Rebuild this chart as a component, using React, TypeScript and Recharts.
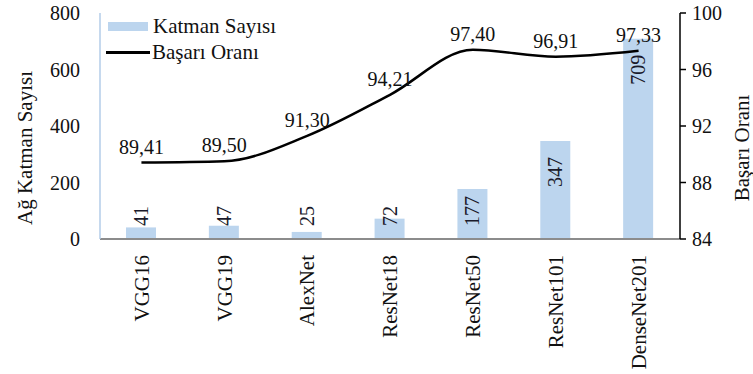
import React from 'react';
import {
  ComposedChart,
  Bar,
  Line,
  XAxis,
  YAxis,
  Legend,
  LabelList,
} from 'recharts';

const models = ['VGG16', 'VGG19', 'AlexNet', 'ResNet18', 'ResNet50', 'ResNet101', 'DenseNet201'];
const layerCounts = [41, 47, 25, 72, 177, 347, 709];
const accuracy = [89.41, 89.5, 91.3, 94.21, 97.4, 96.91, 97.33];
const leftTicks = [0, 200, 400, 600, 800];
const rightTicks = [84, 88, 92, 96, 100];

const FONT = '"Liberation Serif", "Times New Roman", serif';
const BAR_COLOR = '#bcd5ee';
const txt = { fontFamily: FONT };

const data = models.map((name, i) => ({
  name,
  layers: layerCounts[i],
  acc: accuracy[i],
}));

const fmtComma = (v: number) => v.toFixed(2).replace('.', ',');

// category names, rotated to read bottom-to-top, hanging under the axis
const CategoryTick = (props: any) => {
  const { x, y, payload } = props;
  const ty = y + 8;
  return (
    <text
      x={x}
      y={ty}
      transform={`rotate(-90 ${x} ${ty})`}
      textAnchor="end"
      dy="0.35em"
      style={txt}
      fontSize={21}
      fill="#111"
    >
      {payload.value}
    </text>
  );
};

// vertical value label: inside the bar near its top, or sitting on the base for short bars
const BarValue = (props: any) => {
  const { x, y, width, height, value } = props;
  const cx = x + width / 2;
  const base = y + height;
  const len = String(value).length * 10;
  const endY = Math.min(y + 16, base - 13 - len);
  return (
    <text
      x={cx}
      y={endY}
      transform={`rotate(-90 ${cx} ${endY})`}
      textAnchor="end"
      dy="0.35em"
      style={txt}
      fontSize={20}
      fill="#1a1a2a"
    >
      {value}
    </text>
  );
};

const LegendBox = () => (
  <div style={{ fontFamily: FONT, fontSize: 21, color: '#111', lineHeight: '26px' }}>
    <div style={{ display: 'flex', alignItems: 'center' }}>
      <span style={{ display: 'inline-block', width: 40, height: 9, background: BAR_COLOR, marginRight: 5 }} />
      Katman Sayısı
    </div>
    <div style={{ display: 'flex', alignItems: 'center' }}>
      <span style={{ display: 'inline-block', width: 44, height: 3, background: '#000', marginRight: 2, marginLeft: -2 }} />
      Başarı Oranı
    </div>
  </div>
);

const AxisTitle = (props: any) => {
  const { viewBox, tx, text } = props;
  const y = viewBox.y + viewBox.height / 2 + 22;
  return (
    <text
      x={tx}
      y={y}
      transform={`rotate(-90 ${tx} ${y})`}
      textAnchor="middle"
      dy="0.35em"
      style={txt}
      fontSize={21}
      fill="#111"
    >
      {text}
    </text>
  );
};

export default function App() {
  return (
    <div style={{ position: 'absolute', left: 0, top: 0, width: 753, height: 374, background: '#fff', fontFamily: FONT }}>
      <ComposedChart
        width={753}
        height={374}
        data={data}
        margin={{ top: 13, right: 0, left: 0, bottom: 0 }}
        style={txt}
      >
        <XAxis
          dataKey="name"
          height={135}
          tickLine={false}
          axisLine={{ stroke: '#8c8c8c', strokeWidth: 2 }}
          tick={<CategoryTick />}
          interval={0}
        />
        <YAxis
          yAxisId="left"
          orientation="left"
          width={100}
          domain={[0, 800]}
          ticks={leftTicks}
          tickSize={0}
          tickMargin={20}
          axisLine={{ stroke: '#b3cde9', strokeWidth: 1.5 }}
          tick={{ fontFamily: FONT, fontSize: 20, fill: '#111', style: txt }}
          label={<AxisTitle tx={25} text="Ağ Katman Sayısı" />}
        />
        <YAxis
          yAxisId="right"
          orientation="right"
          width={73}
          domain={[84, 100]}
          ticks={rightTicks}
          tickSize={6}
          tickMargin={6}
          axisLine={{ stroke: '#000', strokeWidth: 1.5 }}
          tickLine={{ stroke: '#000', strokeWidth: 1.5 }}
          tick={{ fontFamily: FONT, fontSize: 20, fill: '#111', style: txt }}
          label={<AxisTitle tx={742} text="Başarı Oranı" />}
        />
        {/* centred/middle so the legend reserves no margin; placed by wrapperStyle */}
        <Legend
          layout="vertical"
          verticalAlign="middle"
          align="center"
          content={<LegendBox />}
          wrapperStyle={{ top: 13, left: 108, width: 220 }}
        />
        <Bar
          yAxisId="left"
          dataKey="layers"
          fill={BAR_COLOR}
          barSize={30}
          isAnimationActive={false}
        >
          <LabelList dataKey="layers" content={<BarValue />} />
        </Bar>
        <Line
          yAxisId="right"
          type="monotone"
          dataKey="acc"
          stroke="#000"
          strokeWidth={2.5}
          dot={false}
          activeDot={false}
          isAnimationActive={false}
        >
          <LabelList
            dataKey="acc"
            position="top"
            offset={9}
            formatter={(v: any) => fmtComma(Number(v))}
            style={{ fontFamily: FONT, fontSize: 20, fill: '#111' }}
          />
        </Line>
      </ComposedChart>
    </div>
  );
}
